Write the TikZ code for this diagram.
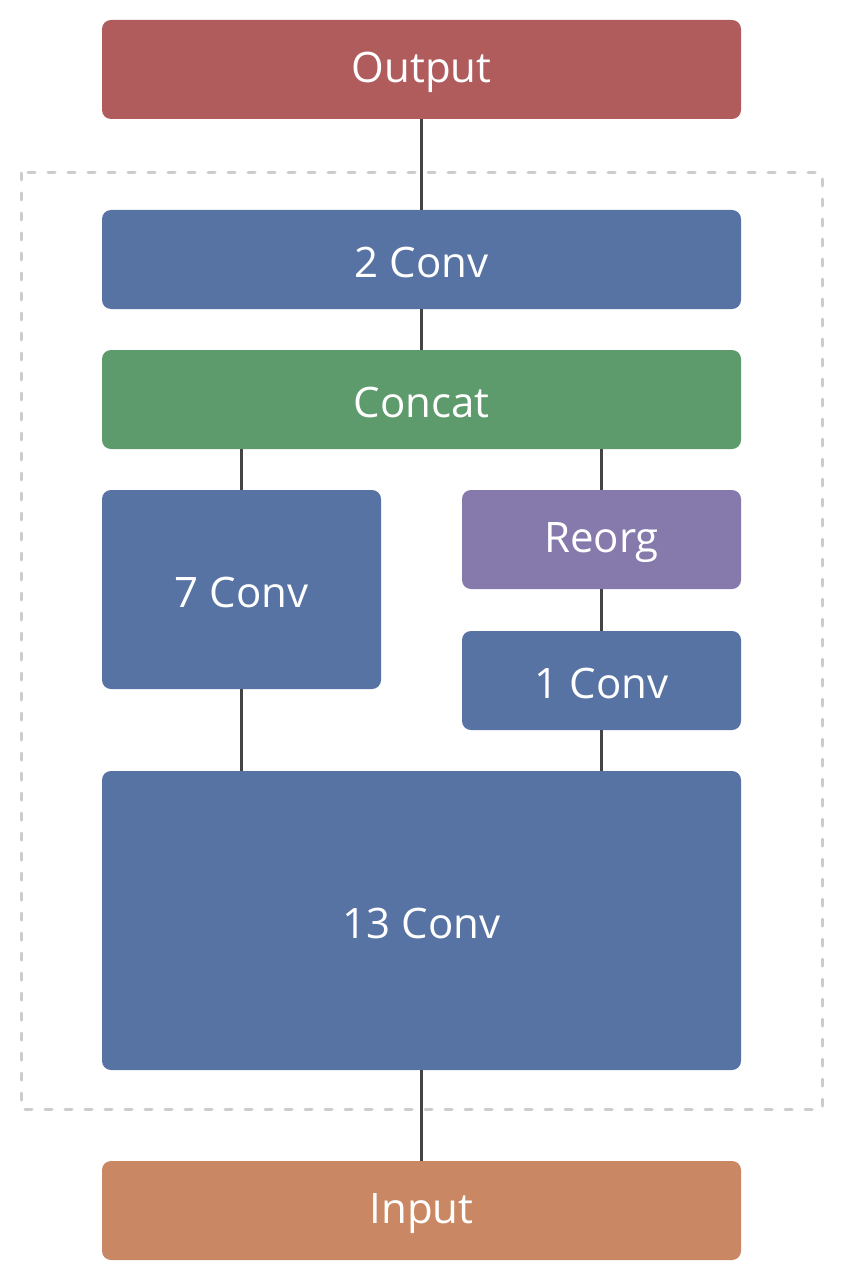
\documentclass[tikz,border=0pt]{standalone}
\usepackage{fontspec}
\setmainfont{Open Sans}
\begin{document}
\begin{tikzpicture}[x=1pt,y=-1pt,
  blk/.style={draw=none,rounded corners=9pt,text=white,font=\fontsize{42}{48}\selectfont,inner sep=0pt},
  lbl/.style={text=white,font=\fontsize{42}{48}\selectfont,inner sep=0pt,yshift=-3pt},
  link/.style={draw=linegray,line width=3pt},
  ]
\definecolor{outc}{HTML}{B05C5C}
\definecolor{convc}{HTML}{5773A3}
\definecolor{catc}{HTML}{5E9B6C}
\definecolor{reoc}{HTML}{857AAB}
\definecolor{inc}{HTML}{C98863}
\definecolor{linegray}{HTML}{444444}
\definecolor{dashgray}{HTML}{CCCCCC}
\useasboundingbox (0,0) rectangle (844,1281);
\draw[dashgray,line width=3pt,line cap=round,dash pattern=on 7pt off 13pt] (21,173) rectangle (822,1109);
\node[blk,fill=outc,minimum width=639pt,minimum height=99pt] (out) at (421.5,69.5) {};
\node[blk,fill=convc,minimum width=639pt,minimum height=99pt] (c2) at (421.5,259.5) {};
\node[blk,fill=catc,minimum width=639pt,minimum height=99pt] (cat) at (421.5,399.5) {};
\node[blk,fill=convc,minimum width=279pt,minimum height=199pt] (c7) at (241.5,589.5) {};
\node[blk,fill=reoc,minimum width=279pt,minimum height=99pt] (reo) at (601.5,539.5) {};
\node[blk,fill=convc,minimum width=279pt,minimum height=99pt] (c1) at (601.5,680.5) {};
\node[blk,fill=convc,minimum width=639pt,minimum height=299pt] (c13) at (421.5,920.5) {};
\node[blk,fill=inc,minimum width=639pt,minimum height=99pt] (inp) at (421.5,1210.5) {};
\node[lbl] (tout) at (out) {Output};
\node[lbl] (tc2) at (c2) {2 Conv};
\node[lbl] (tcat) at (cat) {Concat};
\node[lbl] (tc7) at (c7) {7 Conv};
\node[lbl] (treo) at (reo) {Reorg};
\node[lbl] (tc1) at (c1) {1 Conv};
\node[lbl] (tc13) at (c13) {13 Conv};
\node[lbl] (tinp) at (inp) {Input};
\draw[link] (out.south) -- (c2.north);
\draw[link] (c2.south) -- (cat.north);
\draw[link] (c7.north) -- (c7.north |- cat.south);
\draw[link] (reo.north) -- (reo.north |- cat.south);
\draw[link] (reo.south) -- (c1.north);
\draw[link] (c1.south) -- (c1.south |- c13.north);
\draw[link] (c7.south) -- (c7.south |- c13.north);
\draw[link] (c13.south) -- (inp.north);
\end{tikzpicture}
\end{document}
